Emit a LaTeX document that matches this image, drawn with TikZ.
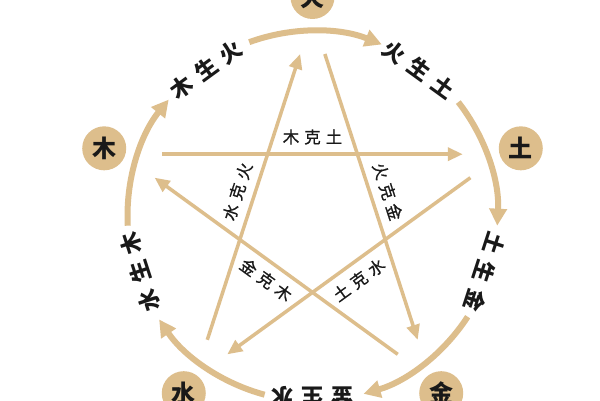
\documentclass[tikz,border=0pt]{standalone}
\usepackage{fontspec}
\newfontfamily\cjk{Noto Sans CJK SC}
\newfontfamily\cjkm{Noto Sans CJK SC}[FakeBold=0.8]
\usetikzlibrary{arrows.meta,calc}
\definecolor{tanc}{HTML}{DDBE8C}
\begin{document}
\begin{tikzpicture}[x=1pt,y=1pt,
  elem/.style={circle,fill=tanc,minimum size=44pt,inner sep=0pt,font=\cjk\bfseries\fontsize{24}{24}\selectfont,text=black!90},
  shenglab/.style={font=\cjk\bfseries\fontsize{22}{22}\selectfont,inner sep=0pt,text=black!90},
  kelab/.style={font=\cjkm\fontsize{16.5}{16.5}\selectfont,inner sep=0pt,text=black!90},
  shengarrow/.style={draw=tanc,line width=6pt,-{Triangle[length=17pt,width=17pt]}},
  kearrow/.style={draw=tanc,line width=3.5pt,-{Triangle[length=15pt,width=13pt]}},
]
\useasboundingbox (0,0) rectangle (600,400);
\fill[white] (0,0) rectangle (600,400);
\clip (0,0) rectangle (600,400);
\coordinate (C) at (312.5,184);
% elements
\node[elem] (huo) at ($(C)+(90:219)$) {火};
\node[elem] (tu) at ($(C)+(18:219)$) {土};
\node[elem] (jin) at ($(C)+(-54:219)$) {金};
\node[elem] (shui) at ($(C)+(-126:219)$) {水};
\node[elem] (mu) at ($(C)+(162:219)$) {木};
% star vertices
\coordinate (vhuo) at ($(C)+(90:200)$);
\coordinate (vtu) at ($(C)+(18:200)$);
\coordinate (vjin) at ($(C)+(-54:200)$);
\coordinate (vshui) at ($(C)+(-126:200)$);
\coordinate (vmu) at ($(C)+(162:200)$);
% generating arcs
\coordinate (a1s) at ($(C)+(110:185)$);
\coordinate (a2s) at ($(C)+(38:185)$);
\coordinate (a3s) at ($(C)+(-33:185)$);
\coordinate (a4s) at ($(C)+(-105:185)$);
\coordinate (a5s) at ($(C)+(-177:185)$);
\draw[shengarrow] (a1s) arc[start angle=110,end angle=68,radius=185];
\draw[shengarrow] (a2s) arc[start angle=38,end angle=-3,radius=185];
\draw[shengarrow] (a3s) arc[start angle=-33,end angle=-74,radius=185];
\draw[shengarrow] (a4s) arc[start angle=-105,end angle=-146,radius=185];
\draw[shengarrow] (a5s) arc[start angle=-177,end angle=-219,radius=185];
% generating labels
\node[shenglab,rotate=36] (l1) at ($(C)+(126:181)$) {木\hspace{8pt}生\hspace{8pt}火};
\node[shenglab,rotate=-36] (l2) at ($(C)+(54:181)$) {火\hspace{8pt}生\hspace{8pt}土};
\node[shenglab,rotate=-108] (l3) at ($(C)+(-18:181)$) {土\hspace{8pt}生\hspace{8pt}金};
\node[shenglab,rotate=180] (l4) at ($(C)+(-90:181)$) {金\hspace{8pt}生\hspace{8pt}水};
\node[shenglab,rotate=108] (l5) at ($(C)+(-162:181)$) {水\hspace{8pt}生\hspace{8pt}木};
% controlling lines
\draw[kearrow] ($(vmu)!0.105!(vtu)$) -- ($(vmu)!0.895!(vtu)$);
\draw[kearrow] ($(vhuo)!0.105!(vjin)$) -- ($(vhuo)!0.895!(vjin)$);
\draw[kearrow] ($(vtu)!0.105!(vshui)$) -- ($(vtu)!0.895!(vshui)$);
\draw[kearrow] ($(vjin)!0.105!(vmu)$) -- ($(vjin)!0.895!(vmu)$);
\draw[kearrow] ($(vshui)!0.105!(vhuo)$) -- ($(vshui)!0.895!(vhuo)$);
% controlling labels
\node[kelab] (k1) at ($(C)+(90:79)$) {木\hspace{5pt}克\hspace{5pt}土};
\node[kelab,rotate=-72] (k2) at ($(C)+(18:79)$) {火\hspace{5pt}克\hspace{5pt}金};
\node[kelab,rotate=36] (k3) at ($(C)+(-54:79)$) {土\hspace{5pt}克\hspace{5pt}水};
\node[kelab,rotate=-36] (k4) at ($(C)+(-126:79)$) {金\hspace{5pt}克\hspace{5pt}木};
\node[kelab,rotate=72] (k5) at ($(C)+(162:79)$) {水\hspace{5pt}克\hspace{5pt}火};
\end{tikzpicture}
\end{document}
